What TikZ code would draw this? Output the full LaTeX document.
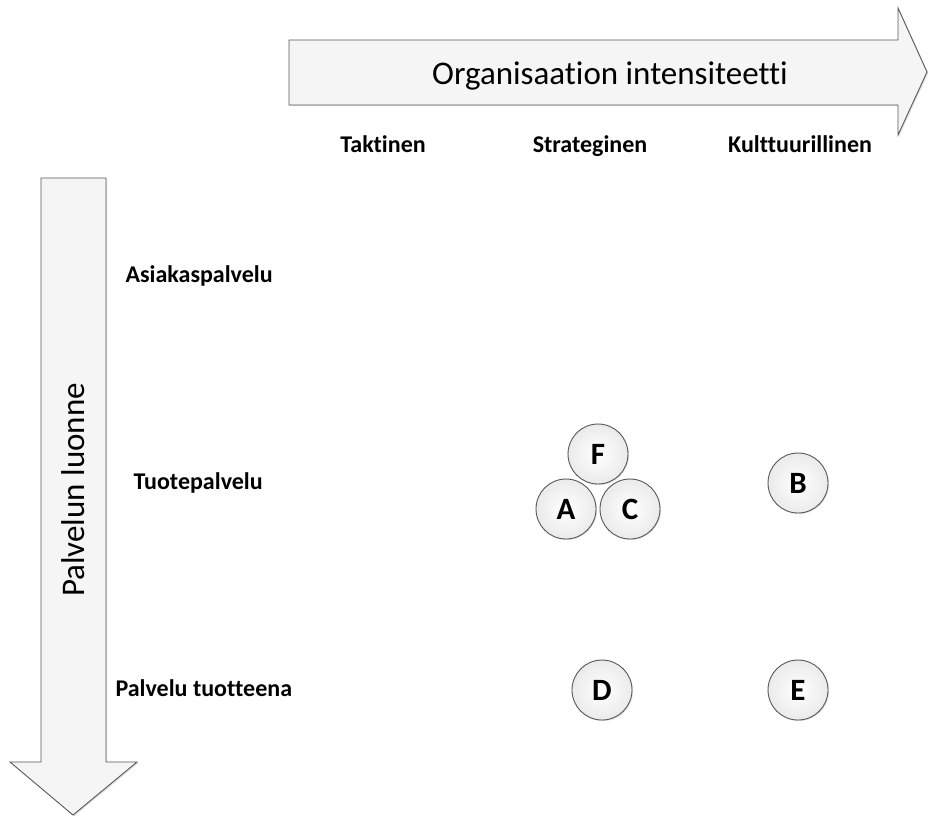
\documentclass[tikz,border=0pt]{standalone}
\usepackage{fontspec}
\setmainfont{Carlito}[Ligatures={NoCommon}]
\usetikzlibrary{shadows}
\begin{document}
\begin{tikzpicture}[x=1pt,y=-1pt,
  arrowshape/.style={draw=black!65, line width=0.9pt, fill=black!4, line join=miter,
    drop shadow={opacity=0.25, shadow xshift=1.2pt, shadow yshift=-1.2pt}},
  ball/.style={circle, draw=black!65, line width=0.9pt, minimum size=60pt, inner sep=0pt,
    inner color=white, outer color=black!8,
    drop shadow={opacity=0.25, shadow xshift=1pt, shadow yshift=-1pt},
    font=\bfseries\fontsize{31}{31}\selectfont},
  bigtext/.style={font=\fontsize{33}{34}\selectfont},
  collabel/.style={font=\bfseries\fontsize{24}{26}\selectfont, anchor=base},
  rowlabel/.style={font=\bfseries\fontsize{24}{26}\selectfont, anchor=base west}]
\useasboundingbox (0,0) rectangle (928,823);
\fill[white] (0,0) rectangle (928,823);

% horizontal arrow: organisational intensity
\draw[arrowshape] (289,40) -- (898,40) -- (898,8) -- (927,72) -- (898,135) -- (898,105) -- (289,105) -- cycle;
\node[bigtext, anchor=base] (org) at (610,84) {Organisaation intensiteetti};

% vertical arrow: nature of the service
\draw[arrowshape] (41,178) -- (106,178) -- (106,762) -- (137,762) -- (73,815) -- (10,762) -- (41,762) -- cycle;
\node[bigtext, rotate=90] (nat) at (73,490) {Palvelun luonne};

% column labels
\node[collabel] (tak) at (383,152) {Taktinen};
\node[collabel] (str) at (590,152) {Strateginen};
\node[collabel] (kul) at (800,152) {Kulttuurillinen};

% row labels
\node[rowlabel] (asi) at (122,282) {Asiakaspalvelu};
\node[rowlabel] (tuo) at (130,489) {Tuotepalvelu};
\node[rowlabel] (pal) at (112,696) {Palvelu tuotteena};

% cases
\node[ball] (F) at (598,454) {F};
\node[ball] (A) at (566,509) {A};
\node[ball] (C) at (630,509) {C};
\node[ball] (B) at (798,483) {B};
\node[ball] (D) at (602,690) {D};
\node[ball] (E) at (798,690) {E};
\end{tikzpicture}
\end{document}
